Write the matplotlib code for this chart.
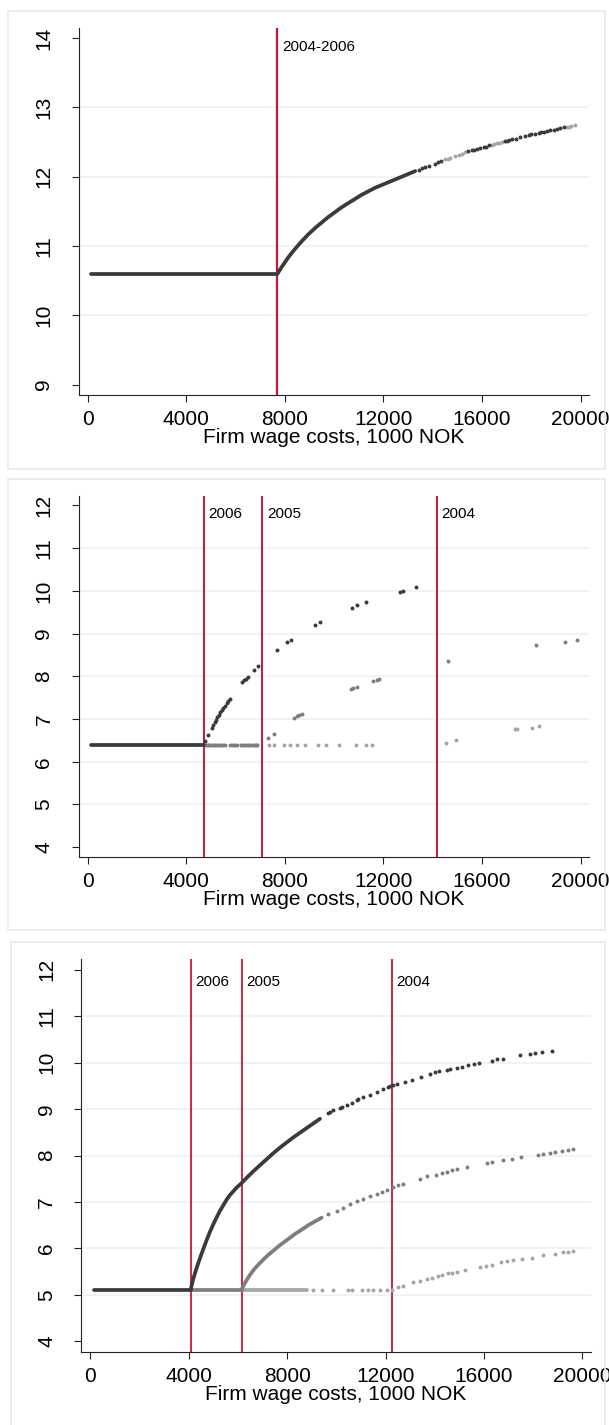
import matplotlib
matplotlib.use("Agg")
import matplotlib.pyplot as plt
from matplotlib.patches import Rectangle

plt.rcParams['font.family'] = ['Liberation Sans', 'DejaVu Sans']

DARK = '#3a3a3a'
MID = '#7e7e7e'
LIGHT = '#a6a6a6'
RED = '#c8173a'

# ---------------- panel 1 : common threshold 2004-2006 ----------------
p1_cut = [7700]
p1_cut_lbl = ['2004-2006']
p1_flat_x = [120, 7700]
p1_flat_y = [10.60, 10.60]
p1_curve_x = [7700, 7876, 8147, 8417, 8688, 8958, 9229, 9500, 9770, 10041, 10311,
              10582, 10852, 11123, 11394, 11664, 11935, 12205, 12476, 12747, 13017, 13288]
p1_curve_y = [10.60, 10.70, 10.84, 10.96, 11.07, 11.17, 11.26, 11.34, 11.42, 11.49, 11.56,
              11.62, 11.68, 11.74, 11.79, 11.84, 11.88, 11.92, 11.96, 12.00, 12.04, 12.08]
p1_dots_x = [13450, 13560, 13694, 13829, 14100, 14208, 14320, 15450, 15588, 15656, 15780,
             15926, 16062, 16150, 16265, 16950, 17009, 17100, 17212, 17374, 17550, 17753,
             17889, 18000, 18159, 18300, 18400, 18497, 18633, 18768, 18903, 19038, 19174,
             19309]
p1_dots_y = [12.10, 12.12, 12.14, 12.16, 12.19, 12.21, 12.22, 12.37, 12.38, 12.39, 12.40,
             12.41, 12.43, 12.43, 12.45, 12.51, 12.52, 12.53, 12.54, 12.55, 12.57, 12.59,
             12.60, 12.61, 12.62, 12.63, 12.64, 12.65, 12.66, 12.67, 12.68, 12.69, 12.70,
             12.71]
p1_light_x = [14506, 14609, 14709, 14911, 15050, 15182, 15300, 16400, 16500, 16603, 16700,
              16806, 19444, 19530, 19620, 19782]
p1_light_y = [12.25, 12.26, 12.27, 12.30, 12.31, 12.33, 12.35, 12.46, 12.47, 12.48, 12.49,
              12.50, 12.72, 12.72, 12.73, 12.74]

# ---------------- panel 2 ----------------
p2_cut = [4700, 7090, 14160]
p2_cut_lbl = ['2006', '2005', '2004']
p2_flat_x = [150, 4700]
p2_flat_y = [6.40, 6.40]
p2_dark_x = [4761, 4883, 5032, 5099, 5154, 5208, 5262, 5330, 5383, 5451, 5505, 5573, 5654,
             5708, 5776, 6276, 6344, 6412, 6493, 6750, 6899, 7697, 8076, 8239, 9226, 9443,
             10714, 10944, 11296, 12676, 12784, 13326]
p2_dark_y = [6.48, 6.62, 6.80, 6.87, 6.93, 6.98, 7.05, 7.10, 7.16, 7.20, 7.26, 7.31, 7.38,
             7.42, 7.48, 7.86, 7.91, 7.94, 7.98, 8.15, 8.23, 8.62, 8.80, 8.86, 9.21, 9.26,
             9.60, 9.66, 9.73, 9.98, 10.00, 10.08]
p2_mid_flat_x = [4760, 4820, 4880, 4940, 5000, 5060, 5120, 5180, 5240, 5300, 5360, 5420,
                 5480, 5560, 5780, 5850, 5920, 5990, 6070, 6210, 6280, 6350, 6420, 6490,
                 6560, 6630, 6700, 6770, 6840, 6885]
p2_mid_x = [7332, 7575, 8387, 8482, 8577, 8698, 10687, 10782, 10917, 11594, 11729, 11824,
            14622, 18206, 19358, 19858]
p2_mid_y = [6.56, 6.66, 7.02, 7.06, 7.09, 7.12, 7.70, 7.73, 7.76, 7.88, 7.91, 7.94,
            8.36, 8.73, 8.81, 8.85]
p2_light_flat_x = [7373, 7549, 7968, 8212, 8482, 8807, 9362, 9659, 10214, 10877, 11283, 11540]
p2_light_x = [14527, 14933, 17354, 17410, 18018, 18302]
p2_light_y = [6.45, 6.50, 6.76, 6.76, 6.80, 6.83]

# ---------------- panel 3 ----------------
p3_cut = [4074, 6146, 12265]
p3_cut_lbl = ['2006', '2005', '2004']
p3_base = 5.10
p3_dark_flat_x = [150, 4074]
p3_mid_flat_x = [4074, 6146]
p3_light_flat_x = [6146, 8791]
p3_dark_x = [4074, 4184, 4320, 4455, 4591, 4726, 4862, 4997, 5133, 5268, 5404, 5539, 5675,
             5810, 5946, 6095, 6352, 6623, 6894, 7165, 7436, 7707, 7978, 8249, 8520, 8791,
             9062, 9333]
p3_dark_y = [5.11, 5.35, 5.58, 5.79, 5.99, 6.18, 6.36, 6.52, 6.67, 6.81, 6.93, 7.05, 7.15,
             7.23, 7.31, 7.38, 7.52, 7.66, 7.79, 7.92, 8.05, 8.17, 8.28, 8.39, 8.49, 8.59,
             8.69, 8.79]
p3_dark_dx = [9672, 9760, 9875, 10146, 10240, 10417, 10620, 10824, 10900, 11095, 11366,
              11637, 11908, 12111, 12200, 12314, 12450, 12789, 13060, 13426, 13805, 14008,
              14184, 14483, 14618, 14916, 15092, 15363, 15593, 15810, 16311, 16515, 16786,
              17463, 17870, 18073, 18344, 18764]
p3_dark_dy = [8.91, 8.94, 8.97, 9.03, 9.05, 9.09, 9.14, 9.19, 9.21, 9.26, 9.31,
              9.37, 9.43, 9.47, 9.49, 9.51, 9.54, 9.59, 9.63, 9.70, 9.75, 9.79,
              9.81, 9.84, 9.86, 9.89, 9.91, 9.94, 9.97, 10.00, 10.04, 10.07, 10.08,
              10.16, 10.19, 10.20, 10.22, 10.26]
p3_mid_x = [6146, 6217, 6352, 6488, 6623, 6827, 7030, 7233, 7436, 7572, 7707, 7910, 8114,
            8317, 8520, 8723, 8859, 9062, 9265, 9401]
p3_mid_y = [5.11, 5.19, 5.32, 5.43, 5.53, 5.65, 5.76, 5.86, 5.95, 6.01, 6.07, 6.15, 6.23,
            6.31, 6.38, 6.45, 6.50, 6.56, 6.62, 6.66]
p3_mid_dx = [9672, 10011, 10282, 10553, 10824, 11095, 11366, 11637, 11840, 12043, 12314,
             12518, 12721, 13398, 13697, 14049, 14279, 14482, 14686, 14889, 15295, 16135,
             16311, 16759, 17124, 17490, 18209, 18412, 18683, 18886, 19157, 19428, 19631]
p3_mid_dy = [6.73, 6.81, 6.88, 6.95, 7.01, 7.07, 7.13, 7.18, 7.22, 7.26, 7.32,
             7.36, 7.39, 7.49, 7.55, 7.59, 7.62, 7.65, 7.68, 7.70, 7.75, 7.83,
             7.86, 7.90, 7.93, 7.96, 8.02, 8.03, 8.05, 8.07, 8.09, 8.11, 8.13]
p3_light_fx = [9062, 9401, 9875, 10485, 10620, 11027, 11298, 11501, 11772, 12043, 12247]
p3_light_x = [12518, 12721, 13127, 13398, 13670, 13873, 14144, 14279, 14550, 14686, 14889,
              15228, 15837, 16081, 16311, 16677, 16921, 17192, 17531, 17937, 18412, 18886,
              19225, 19428, 19631]
p3_light_y = [5.17, 5.19, 5.27, 5.30, 5.34, 5.37, 5.41, 5.43, 5.47, 5.48, 5.50,
              5.54, 5.61, 5.63, 5.65, 5.70, 5.72, 5.74, 5.77, 5.80, 5.85, 5.89,
              5.92, 5.93, 5.94]

W, H = 609, 1425
fig = plt.figure(figsize=(W / 100, H / 100), dpi=100)
fig.patch.set_facecolor('white')


def box(l, t, r, b):
    fig.patches.append(Rectangle((l / W, 1 - b / H), (r - l) / W, (b - t) / H,
                                 transform=fig.transFigure, fill=False,
                                 edgecolor='#e3eaee', linewidth=1.2))


def make_axes(l, t, r, b):
    return fig.add_axes([l / W, 1 - b / H, (r - l) / W, (b - t) / H])


def style(ax, ylim, yticks, cuts, labels, lab_y, lw):
    ax.set_xlim(-375, 20350)
    ax.set_ylim(*ylim)
    ax.set_xticks([0, 4000, 8000, 12000, 16000, 20000])
    ax.set_yticks(yticks)
    for sp in ['top', 'right']:
        ax.spines[sp].set_visible(False)
    for sp in ['left', 'bottom']:
        ax.spines[sp].set_color('#222222')
        ax.spines[sp].set_linewidth(0.8)
    ax.tick_params(direction='out', length=5, width=0.8, color='#222222',
                   labelsize=15, pad=6)
    ax.tick_params(axis='y', labelrotation=90, pad=13)
    for t in ax.get_yticklabels():
        t.set_va('center')
    for v in yticks[1:-1]:
        ax.axhline(v, color='#eaf0f3', linewidth=1.1, zorder=0)
    for c, s in zip(cuts, labels):
        ax.axvline(c, color=RED, linewidth=lw, zorder=1)
        ax.text(c + 180, lab_y, s, fontsize=11, va='center', ha='left')
    ax.set_xlabel('Firm wage costs, 1000 NOK', fontsize=15, labelpad=-1)


def dots(ax, x, y, c):
    ax.scatter(x, y, s=8, color=c, linewidths=0, zorder=3)


def band(ax, x, y, c):
    ax.plot(x, y, color=c, linewidth=2.7, solid_capstyle='round',
            solid_joinstyle='round', zorder=3)


# panel 1
box(8, 11, 605, 469)
ax1 = make_axes(78.5, 28, 589.2, 395)
style(ax1, (8.85, 14.145), [9, 10, 11, 12, 13, 14], p1_cut, p1_cut_lbl, 13.87, 1.6)
band(ax1, p1_flat_x, p1_flat_y, DARK)
band(ax1, p1_curve_x, p1_curve_y, DARK)
dots(ax1, p1_light_x, p1_light_y, LIGHT)
dots(ax1, p1_dots_x, p1_dots_y, DARK)

# panel 2
box(8, 479, 605, 930)
ax2 = make_axes(78.5, 496, 589.2, 857)
style(ax2, (3.77, 12.22), [4, 5, 6, 7, 8, 9, 10, 11, 12], p2_cut, p2_cut_lbl, 11.8, 1.4)
dots(ax2, p2_light_flat_x, [6.40] * len(p2_light_flat_x), LIGHT)
dots(ax2, p2_light_x, p2_light_y, LIGHT)
dots(ax2, p2_mid_flat_x, [6.40] * len(p2_mid_flat_x), MID)
dots(ax2, p2_mid_x, p2_mid_y, MID)
band(ax2, p2_flat_x, p2_flat_y, DARK)
dots(ax2, p2_dark_x, p2_dark_y, DARK)

# panel 3
box(10.5, 942, 605, 1430)
ax3 = make_axes(81.2, 959, 590.9, 1352)
style(ax3, (3.77, 12.23), [4, 5, 6, 7, 8, 9, 10, 11, 12], p3_cut, p3_cut_lbl, 11.74, 1.3)
band(ax3, p3_light_flat_x, [p3_base] * 2, LIGHT)
dots(ax3, p3_light_fx, [p3_base] * len(p3_light_fx), LIGHT)
dots(ax3, p3_light_x, p3_light_y, LIGHT)
band(ax3, p3_mid_flat_x, [p3_base] * 2, MID)
band(ax3, p3_mid_x, p3_mid_y, MID)
dots(ax3, p3_mid_dx, p3_mid_dy, MID)
band(ax3, p3_dark_flat_x, [p3_base] * 2, DARK)
band(ax3, p3_dark_x, p3_dark_y, DARK)
dots(ax3, p3_dark_dx, p3_dark_dy, DARK)

fig.savefig('out.png', dpi=100)
